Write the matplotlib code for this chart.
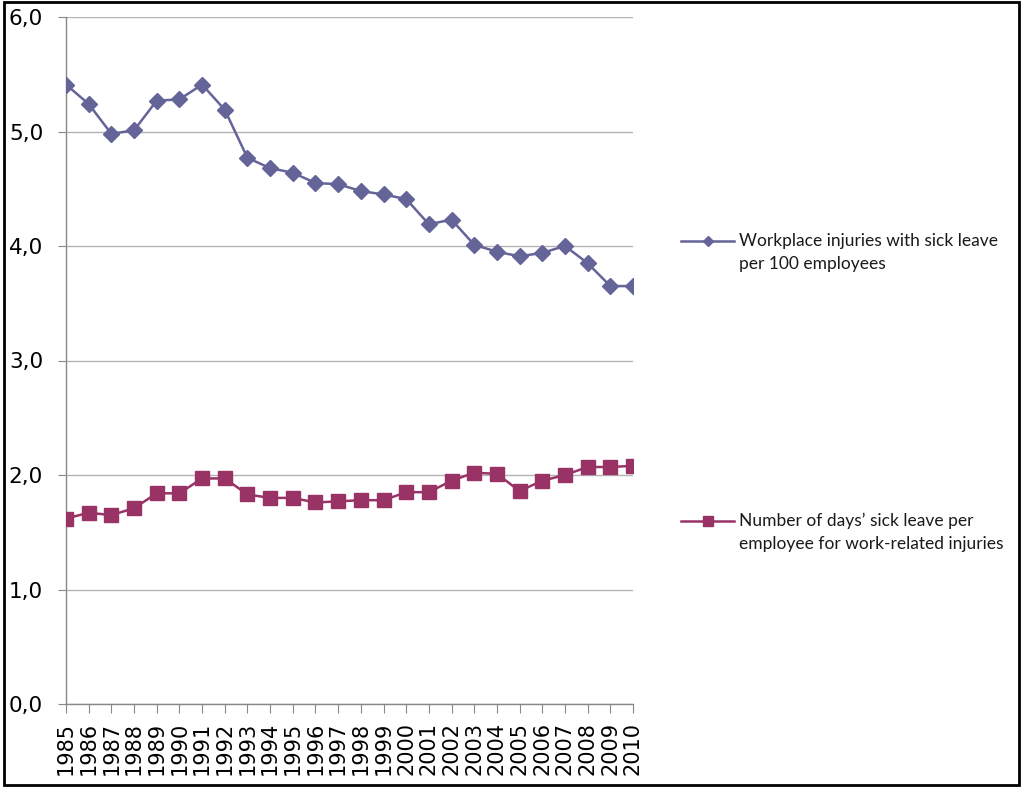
import matplotlib
matplotlib.use("Agg")
import matplotlib.pyplot as plt
from matplotlib.patches import Rectangle
from matplotlib.lines import Line2D
from matplotlib.ticker import FuncFormatter, MultipleLocator

years = list(range(1985, 2011))
injuries = [5.41, 5.24, 4.98, 5.01, 5.27, 5.28, 5.41, 5.19, 4.77, 4.68,
            4.64, 4.55, 4.54, 4.48, 4.45, 4.41, 4.19, 4.23, 4.01, 3.95,
            3.91, 3.94, 4.00, 3.85, 3.65, 3.65]
sick_days = [1.62, 1.67, 1.65, 1.71, 1.84, 1.84, 1.97, 1.97, 1.83, 1.80,
             1.80, 1.76, 1.77, 1.78, 1.78, 1.85, 1.85, 1.95, 2.02, 2.01,
             1.86, 1.95, 2.00, 2.07, 2.07, 2.08]
label1 = ["Workplace injuries with sick leave", "per 100 employees"]
label2 = ["Number of days\u2019 sick leave per", "employee for work-related injuries"]

c1 = "#646499"
c2 = "#993366"

W, H = 1023, 787
fig = plt.figure(figsize=(W / 100, H / 100), dpi=100)
ax = fig.add_axes([66/W, 83/H, (633-66)/W, (704-17)/H])

l1, = ax.plot(years, injuries, color=c1, lw=1.8, marker="D", ms=8.5,
              markeredgecolor=c1, markerfacecolor=c1, zorder=3)
l2, = ax.plot(years, sick_days, color=c2, lw=1.8, marker="s", ms=10,
              markeredgecolor=c2, markerfacecolor=c2, zorder=3)

ax.set_xlim(years[0], years[-1])
ax.set_ylim(0, 6)
ax.yaxis.set_major_locator(MultipleLocator(1))
ax.yaxis.set_major_formatter(FuncFormatter(lambda v, p: f"{v:.1f}".replace(".", ",")))
ax.set_xticks(years)
ax.set_xticklabels([str(y) for y in years], rotation=90, fontsize=15)
ax.tick_params(axis="y", labelsize=15.5, length=6, color="#888888", pad=10.5)
ax.tick_params(axis="x", length=6.5, color="#888888", pad=6.5)
ax.grid(axis="y", color="#b3b3b3", lw=1)
for s in ["top", "right"]:
    ax.spines[s].set_visible(False)
for s in ["left", "bottom"]:
    ax.spines[s].set_color("#888888")
    ax.spines[s].set_linewidth(1)


def px(x, y):
    return x / W, 1 - y / H


def legend_entry(color, lines, y, marker, ms):
    x0, yy = px(681, y)
    x1, _ = px(734, y)
    fig.add_artist(Line2D([x0, x1], [yy, yy], transform=fig.transFigure,
                          color=color, lw=1.8))
    fig.add_artist(Line2D([(x0 + x1) / 2], [yy], transform=fig.transFigure,
                          color=color, marker=marker, ms=ms, lw=0))
    for i, t in enumerate(lines):
        fig.text(*px(739, y + 23 * i), t, ha="left", va="center",
                 family="Lato", fontsize=12.5, color="#1a1a1a")


legend_entry(c1, label1, 241, "D", 5)
legend_entry(c2, label2, 521, "s", 7)

fig.patches.append(Rectangle((4/W, 2/H), 1015/W, 783/H,
                             transform=fig.transFigure, fill=False,
                             edgecolor="black", lw=2))

fig.savefig("out.png", dpi=100)
